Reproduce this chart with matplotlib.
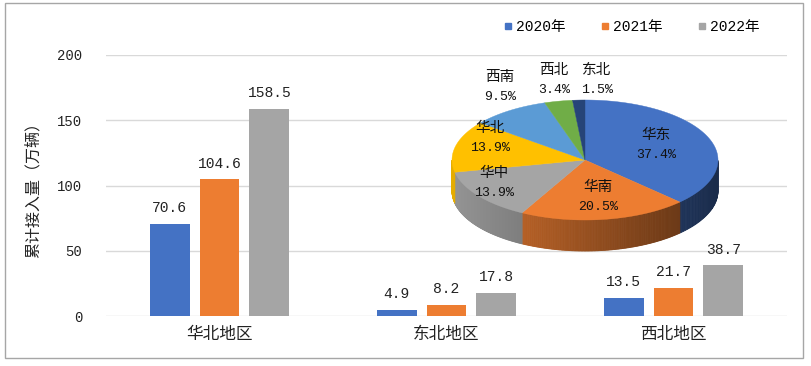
import matplotlib.pyplot as plt
import numpy as np
from matplotlib.patches import Polygon, Rectangle
from matplotlib.lines import Line2D

plt.rcParams['font.family'] = ['Liberation Mono', 'Noto Sans CJK SC']

# bar data
regions = ["华北地区", "东北地区", "西北地区"]
years = ["2020年", "2021年", "2022年"]
v2020 = [70.6, 4.9, 13.5]
v2021 = [104.6, 8.2, 21.7]
v2022 = [158.5, 17.8, 38.7]
bar_colors = ["#4472C4", "#ED7D31", "#A5A5A5"]

# pie data (share of 2022, %)
pie_names = ["华东", "华南", "华中", "华北", "西南", "西北", "东北"]
pie_share = [37.4, 20.5, 13.9, 13.9, 9.5, 3.4, 1.5]
pie_colors = ["#4472C4", "#ED7D31", "#A5A5A5", "#FFC000", "#5B9BD5", "#70AD47", "#264478"]

W, H = 812, 366
fig = plt.figure(figsize=(W / 100, H / 100), dpi=100)

ax = fig.add_axes([106 / W, 1 - 316 / H, (787 - 106) / W, (316 - 55) / H])
x = np.arange(len(regions))
bw = 0.176
step = 0.22
for k, vals in enumerate([v2020, v2021, v2022]):
    xs = x + (k - 1) * step
    ax.bar(xs, vals, width=bw, color=bar_colors[k], zorder=2)
    for xi, v in zip(xs, vals):
        ax.annotate(f"{v}", (xi, v), xytext=(0, 11.5), textcoords="offset points",
                    ha="center", va="center", fontsize=10.5, color="#222222")

ax.set_ylim(0, 200)
ax.set_xlim(-0.5, 2.5)
ax.set_yticks([0, 50, 100, 150, 200])
ax.set_xticks(x)
ax.set_xticklabels(regions, fontsize=12, color="#222222")
ax.tick_params(axis="y", length=0, pad=17, labelsize=10, labelcolor="#222222")
ax.tick_params(axis="x", length=0, pad=8)
ax.grid(axis="y", color="#D9D9D9", linewidth=1, zorder=0)
for s in ax.spines.values():
    s.set_visible(False)
ax.set_ylabel("累计接入量（万辆）", fontsize=11.5, color="#222222", labelpad=12)

# legend
handles = [Line2D([], [], marker="s", linestyle="none", markersize=5,
                  markerfacecolor=c, markeredgecolor=c) for c in bar_colors]
fig.legend(handles, years, loc="center", bbox_to_anchor=(632 / W, 1 - 27 / H),
           ncol=3, frameon=False, fontsize=10.5, handlelength=0.6,
           handletextpad=0.25, columnspacing=2.4)

# overlay axes in pixel coords for the 3D pie
pa = fig.add_axes([0, 0, 1, 1], zorder=5)
pa.set_xlim(0, W)
pa.set_ylim(H, 0)
pa.axis("off")
pa.patch.set_alpha(0)

cx, cy, rx, ry, depth = 585, 160, 133, 60, 31
total = sum(pie_share)
bounds = 90 - np.cumsum([0] + pie_share) / total * 360


def shade(col, xp):
    rgb = np.array(plt.matplotlib.colors.to_rgb(col))
    f = 0.9 - 0.52 * (xp - (cx - rx)) / (2 * rx)
    return tuple(np.clip(rgb * f, 0, 1))


# side walls
for i, col in enumerate(pie_colors):
    a0, a1 = bounds[i], bounds[i + 1]
    ts = np.radians(np.linspace(a0, a1, 120))
    for t1, t2 in zip(ts[:-1], ts[1:]):
        tm = (t1 + t2) / 2
        if np.sin(tm) > 0:
            continue
        p1 = (cx + rx * np.cos(t1), cy - ry * np.sin(t1))
        p2 = (cx + rx * np.cos(t2), cy - ry * np.sin(t2))
        quad = [p1, p2, (p2[0], p2[1] + depth), (p1[0], p1[1] + depth)]
        pa.add_patch(Polygon(quad, closed=True, facecolor=shade(col, (p1[0] + p2[0]) / 2),
                             edgecolor=shade(col, (p1[0] + p2[0]) / 2), linewidth=0.6))

# top faces
for i, col in enumerate(pie_colors):
    ts = np.radians(np.linspace(bounds[i], bounds[i + 1], 200))
    pts = [(cx, cy)] + [(cx + rx * np.cos(t), cy - ry * np.sin(t)) for t in ts]
    pa.add_patch(Polygon(pts, closed=True, facecolor=col, edgecolor=col, linewidth=0.3))

# pie labels
label_pos = [(656, 145), (598, 197), (494, 183), (490, 138), (500, 87), (554, 80), (597, 80)]
for name, v, (lx, ly) in zip(pie_names, pie_share, label_pos):
    pa.text(lx, ly - 10, name, ha="center", va="center", fontsize=10.5, color="#111111")
    pa.text(lx, ly + 10, f"{v}%", ha="center", va="center", fontsize=9.5, color="#111111")

# outer border
fig.patches.append(Rectangle((5 / W, 1 - 358 / H), 798 / W, 355 / H, transform=fig.transFigure,
                             fill=False, edgecolor="#A6A6A6", linewidth=1))

fig.savefig("out.png", dpi=100)
